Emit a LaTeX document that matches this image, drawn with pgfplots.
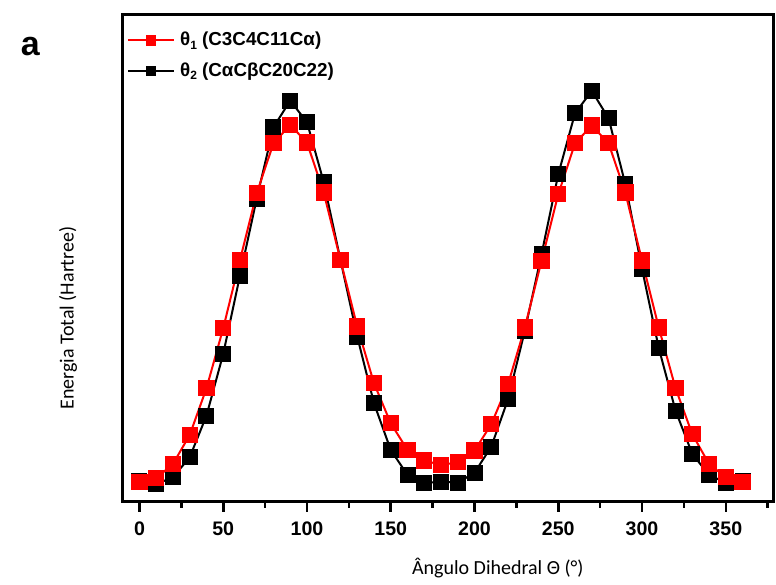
\documentclass[border=0pt]{standalone}
\usepackage{fontspec}
\setmainfont{Liberation Sans}
\newfontfamily\carlito{Carlito}
\usepackage{pgfplots}
\pgfplotsset{compat=1.18}
\begin{document}
\begin{tikzpicture}
\begin{axis}[
  name=ax,
  scale only axis,
  width=325.6pt, height=243.4pt,
  xmin=-10, xmax=378.7,
  ymin=0, ymax=486.7,
  axis line style={line width=1.5pt},
  xtick={0,50,...,350},
  minor xtick={25,75,...,375},
  xtick pos=bottom,
  tick align=outside,
  major tick length=5pt,
  minor tick length=3pt,
  every tick/.style={black, line width=1.3pt},
  ytick=\empty,
  /pgf/number format/assume math mode=true,
  xticklabel style={font=\bfseries\fontsize{9.8}{11}\selectfont, yshift=-1.5pt},
  clip=false,
  legend style={draw=none, fill=none, at={(axis description cs:0.0,0.982)}, anchor=north west,
    font=\bfseries\fontsize{9.4}{11}\selectfont, row sep=3pt, inner xsep=2pt,
    nodes={inner xsep=2.5pt}},
  legend cell align=left,
  reverse legend,
  legend image code/.code={\draw[mark repeat=2,mark phase=2, mark size=2.2pt] plot coordinates {(0pt,0pt)(11.5pt,0pt)(23pt,0pt)};},
]
\addplot[black, line width=1pt, mark=square*, mark size=3.5pt, mark options={solid}] coordinates {
(0,21)(10,17.7)(20,24.4)(30,44.4)(40,86)(50,147.7)(60,226)(70,303)(80,374.4)(90,401)
(100,379.4)(110,319.4)(120,241.7)(130,165)(140,98.4)(150,51.7)(160,26.7)(170,18.7)(180,20)
(190,19)(200,29)(210,55)(220,102.4)(230,170.7)(240,247.4)(250,327.4)(260,388.4)(270,410.7)
(280,383.4)(290,317.7)(300,232.7)(310,153.4)(320,91)(330,47.7)(340,26.7)(350,19)(360,21)};
\addlegendentry{θ\raisebox{-0.35ex}{\fontsize{6}{6}\selectfont 2} (CαCβC20C22)}
\addplot[red, line width=1pt, mark=square*, mark size=3.6pt, mark options={solid}] coordinates {
(0,20)(10,23.4)(20,37.7)(30,66.7)(40,113.4)(50,173.4)(60,241.7)(70,308.4)(80,358.4)(90,376.7)
(100,359)(110,309)(120,241.7)(130,175)(140,118.4)(150,78.4)(160,51.7)(170,41.2)(180,36.7)
(190,39.4)(200,51)(210,77.4)(220,117.4)(230,174)(240,240.7)(250,307.4)(260,358.4)(270,376)
(280,358.4)(290,309)(300,241)(310,174)(320,113.4)(330,67.4)(340,37.7)(350,24.4)(360,20)};
\addlegendentry{θ\raisebox{-0.35ex}{\fontsize{6}{6}\selectfont 1} (C3C4C11Cα)}
\node[font=\carlito\fontsize{10}{12}\selectfont] at (axis description cs:0.576,-0.136) {Ângulo Dihedral Θ (°)};
\node[font=\carlito\fontsize{10}{12}\selectfont, rotate=90] at (axis description cs:-0.084,0.377) {Energia Total (Hartree)};
\node[font=\bfseries\fontsize{17}{20}\selectfont] at (axis description cs:-0.142,0.935) {a};
\end{axis}
\pgfresetboundingbox
\path ([shift={(-61.35pt,250.85pt)}]ax.south west) rectangle ([shift={(326.65pt,-41.15pt)}]ax.south west);
\end{tikzpicture}
\end{document}
